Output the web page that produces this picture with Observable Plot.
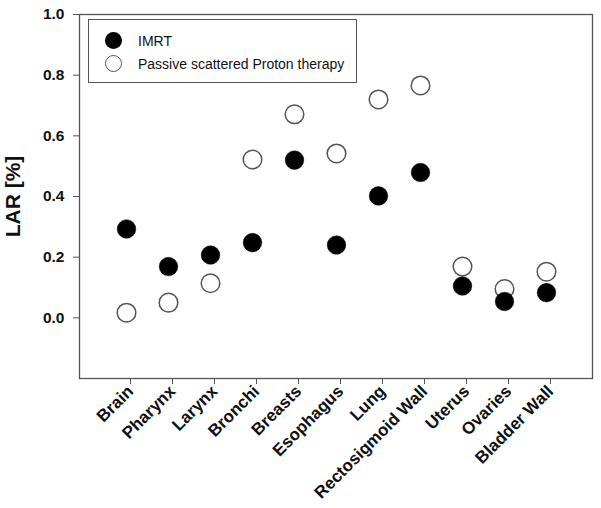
<!DOCTYPE html>
<html>
<head>
<meta charset="utf-8">
<script src="https://cdn.jsdelivr.net/npm/d3@7"></script>
<script src="https://cdn.jsdelivr.net/npm/@observablehq/plot@0.6"></script>
<style>
  body { margin: 0; background: #fff; font-family: Arial, "Liberation Sans", sans-serif; }
  #wrap { position: relative; width: 601px; height: 508px; }
  #legend { position: absolute; left: 88px; top: 19px; width: 269px; height: 64px; border: 1px solid #555; box-sizing: border-box; background: #fff; font-size: 14px; color: #111; }
  .li { position: absolute; left: 16px; display: flex; align-items: center; }
  .sym { width: 17px; height: 17px; border-radius: 50%; box-sizing: border-box; margin-right: 16px; }
  g[aria-label="y-axis label"] text { font-size: 21px; font-weight: bold; }
</style>
</head>
<body>
<div id="wrap">
  <div id="chart"></div>
  <div id="legend">
    <div class="li" style="top:12px"><div class="sym" style="background:#000"></div><span id="l0"></span></div>
    <div class="li" style="top:35px"><div class="sym" style="background:#fff;border:1.5px solid #555"></div><span id="l1"></span></div>
  </div>
</div>
<script>
const categories = ["Brain","Pharynx","Larynx","Bronchi","Breasts","Esophagus","Lung","Rectosigmoid Wall","Uterus","Ovaries","Bladder Wall"];
const imrt   = [0.293,0.169,0.207,0.248,0.520,0.240,0.402,0.479,0.105,0.054,0.083];
const proton = [0.017,0.050,0.114,0.522,0.671,0.542,0.720,0.766,0.169,0.095,0.152];
const seriesNames = ["IMRT","Passive scattered Proton therapy"];
const yTicks = [0.0,0.2,0.4,0.6,0.8,1.0];

document.getElementById("l0").textContent = seriesNames[0];
document.getElementById("l1").textContent = seriesNames[1];

const rowsI = categories.map((c,i)=>({organ:c, v:imrt[i]}));
const rowsP = categories.map((c,i)=>({organ:c, v:proton[i]}));

const chart = Plot.plot({
  width: 601,
  height: 508,
  marginLeft: 79,
  marginRight: 9,
  marginTop: 14,
  marginBottom: 130,
  style: {fontFamily: "Arial, 'Liberation Sans', sans-serif", background: "#fff", color: "#111"},
  x: {type: "point", domain: categories, padding: 1},
  y: {domain: [-0.2, 1.0]},
  marks: [
    Plot.frame({stroke: "#555", strokeWidth: 1.3}),
    Plot.axisY({ticks: yTicks, tickFormat: d3.format(".1f"), tickSize: 6, tickPadding: 9, fontSize: 15.5, fontWeight: "bold", stroke: "#555",
      label: "LAR [%]", labelAnchor: "center", labelArrow: "none", labelOffset: 74}),
    Plot.axisX({tickSize: 6, tickRotate: -45, tickPadding: 4, fontSize: 17, fontWeight: "bold", stroke: "#555", label: null, dx: 4}),
    Plot.dot(rowsP, {x: "organ", y: "v", r: 9.3, fill: "#fff", stroke: "#555", strokeWidth: 1.5}),
    Plot.dot(rowsI, {x: "organ", y: "v", r: 9.3, fill: "#000", stroke: "#000", strokeWidth: 0.5})
  ]
});
document.getElementById("chart").appendChild(chart);
</script>
</body>
</html>
